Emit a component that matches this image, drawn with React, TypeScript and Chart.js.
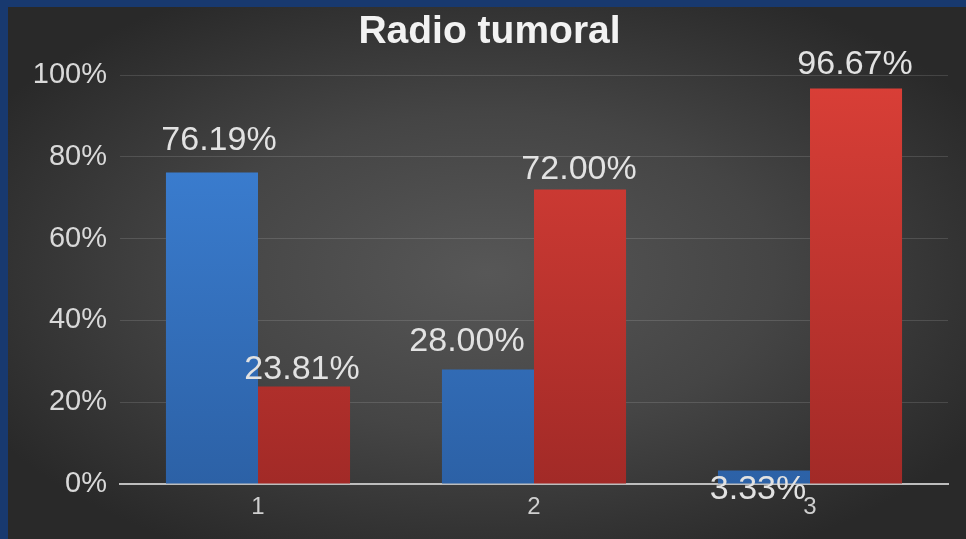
import React, { useEffect, useRef } from "react";
import { Chart, registerables } from "chart.js";

Chart.register(...registerables);

const categories = ["1", "2", "3"];
const serie1 = [76.19, 28.0, 3.33];
const serie2 = [23.81, 72.0, 96.67];
const titleText = "Radio tumoral";
const yMin = 0;
const yMax = 100;
const yStep = 20;
// label nudges (dx, dy) relative to the default spot above each bar
const labelShift1 = [[7, -10], [-21, -6], [-6, 41]];
const labelShift2 = [[-2, 5], [-1, 2], [-1, -2]];

const FONT = "'Liberation Sans', Arial, sans-serif";

export default function App() {
  const ref = useRef<HTMLCanvasElement | null>(null);

  useEffect(() => {
    document.body.style.margin = "0";
    const canvas = ref.current;
    if (!canvas) return;

    const bgPlugin = {
      id: "bg",
      beforeDraw(chart: any) {
        const { ctx, width, height } = chart;
        ctx.save();
        ctx.fillStyle = "#18396f";
        ctx.fillRect(0, 0, width, height);
        const x0 = 8, y0 = 7;
        const w = width - x0, h = height - y0;
        const cx = x0 + w / 2, cy = y0 + h / 2;
        ctx.beginPath();
        ctx.rect(x0, y0, w, h);
        ctx.clip();
        ctx.translate(cx, cy);
        ctx.scale(1, h / w);
        const g = ctx.createRadialGradient(0, 0, 0, 0, 0, w * 0.6);
        g.addColorStop(0, "#575757");
        g.addColorStop(0.5, "#454545");
        g.addColorStop(1, "#292929");
        ctx.fillStyle = g;
        ctx.fillRect(-w, -w, 2 * w, 2 * w);
        ctx.restore();
      },
    };

    const labelPlugin = {
      id: "labels",
      afterDatasetsDraw(chart: any) {
        const { ctx } = chart;
        ctx.save();
        ctx.font = `34px ${FONT}`;
        ctx.fillStyle = "#e2e2e2";
        ctx.textAlign = "center";
        ctx.textBaseline = "middle";
        const shifts = [labelShift1, labelShift2];
        chart.data.datasets.forEach((ds: any, di: number) => {
          const meta = chart.getDatasetMeta(di);
          meta.data.forEach((bar: any, i: number) => {
            const v = ds.data[i] as number;
            const [dx, dy] = shifts[di][i];
            ctx.fillText(v.toFixed(2) + "%", bar.x + dx, bar.y - 22 + dy);
          });
        });
        // title
        ctx.font = `bold 39px ${FONT}`;
        ctx.fillStyle = "#f2f2f2";
        ctx.textBaseline = "alphabetic";
        ctx.fillText(titleText, 489.5, 43);
        ctx.restore();
      },
    };

    const grad = (top: string, bottom: string) => (c: any) => {
      const area = c.chart.chartArea;
      if (!area) return top;
      const g = c.chart.ctx.createLinearGradient(0, area.top, 0, area.bottom);
      g.addColorStop(0, top);
      g.addColorStop(1, bottom);
      return g;
    };

    const chart = new Chart(canvas, {
      type: "bar",
      data: {
        labels: categories,
        datasets: [
          {
            label: "Serie 1",
            data: serie1,
            backgroundColor: grad("#3e84da", "#2c61a6"),
            categoryPercentage: 0.667,
            barPercentage: 1,
          },
          {
            label: "Serie 2",
            data: serie2,
            backgroundColor: grad("#da3f37", "#a22a27"),
            categoryPercentage: 0.667,
            barPercentage: 1,
          },
        ],
      },
      options: {
        responsive: false,
        animation: false,
        layout: { padding: { top: 75, right: 18, left: 0, bottom: 0 } },
        plugins: {
          legend: { display: false },
          title: { display: false },
          tooltip: { enabled: false },
        },
        scales: {
          x: {
            grid: { display: false, drawTicks: false },
            border: { display: true, color: "#bdbdbd", width: 2 },
            ticks: {
              color: "#cfcfcf",
              font: { family: FONT, size: 24 },
              padding: 9,
            },
            afterFit(scale: any) {
              scale.height = 55;
            },
          },
          y: {
            min: yMin,
            max: yMax,
            grid: {
              drawTicks: false,
              color: (c: any) =>
                c.tick && c.tick.value === 0 ? "rgba(0,0,0,0)" : "rgba(255,255,255,0.13)",
              lineWidth: 1,
            },
            border: { display: false },
            ticks: {
              stepSize: yStep,
              color: "#d9d9d9",
              font: { family: FONT, size: 29 },
              padding: 13,
              callback: (v: any) => v + "%",
            },
            afterFit(scale: any) {
              scale.width = 120;
            },
          },
        },
      },
      plugins: [bgPlugin, labelPlugin],
    } as any);

    return () => chart.destroy();
  }, []);

  return <canvas ref={ref} width={966} height={539} style={{ display: "block" }} />;
}
